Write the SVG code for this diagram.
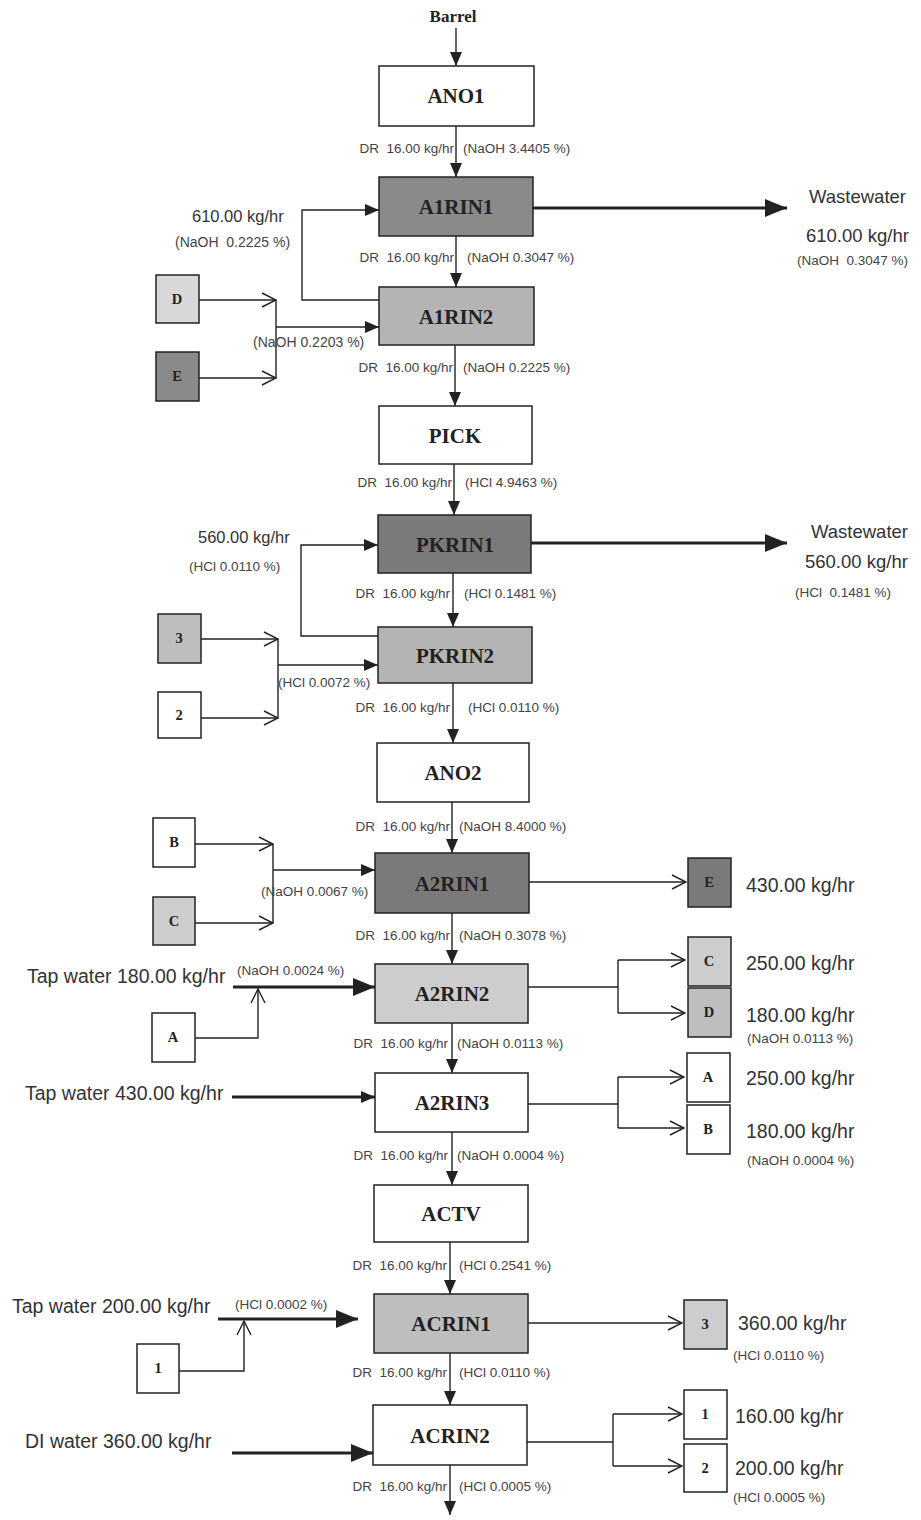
<svg xmlns="http://www.w3.org/2000/svg" width="921" height="1520" viewBox="0 0 921 1520">
<style>
.ln{stroke:#222;stroke-width:1.4;fill:none}
.thk{stroke:#222;stroke-width:3;fill:none}
.box{stroke:#222;stroke-width:1.5}
.nl{font-family:"Liberation Serif","Times New Roman",serif;font-weight:bold;font-size:21px;fill:#222;text-anchor:middle}
.sl{font-family:"Liberation Serif","Times New Roman",serif;font-weight:bold;font-size:14.5px;fill:#222;text-anchor:middle}
.dr{font-family:"Liberation Sans",Arial,sans-serif;font-size:13.5px;fill:#444;text-anchor:end;white-space:pre}
.pc{font-family:"Liberation Sans",Arial,sans-serif;font-size:13.5px;fill:#444;white-space:pre}
.md{font-family:"Liberation Sans",Arial,sans-serif;font-size:16.5px;fill:#333}
.lg{font-family:"Liberation Sans",Arial,sans-serif;font-size:18.5px;fill:#333}
.tp{font-family:"Liberation Sans",Arial,sans-serif;font-size:19.5px;fill:#333}
.w{fill:#fff}
.g1{fill:#8a8a8a}
.g2{fill:#b4b4b4}
.g3{fill:#7a7a7a}
.g4{fill:#cdcdcd}
.g5{fill:#bebebe}
.g6{fill:#d8d8d8}
</style>
<defs>
<marker id="fa" markerUnits="userSpaceOnUse" markerWidth="14" markerHeight="12" refX="14" refY="6" orient="auto"><path d="M0,0 L14,6 L0,12 z" fill="#222"/></marker>
<marker id="fb" markerUnits="userSpaceOnUse" markerWidth="22" markerHeight="18" refX="22" refY="9" orient="auto"><path d="M0,0 L22,9 L0,18 z" fill="#222"/></marker>
<marker id="oa" markerUnits="userSpaceOnUse" markerWidth="16" markerHeight="16" refX="15" refY="8" orient="auto"><path d="M1,1 L15,8 L1,15" fill="none" stroke="#222" stroke-width="1.4"/></marker>
</defs>
<rect width="921" height="1520" fill="#fff"/>

<g id="connectors">
<line class="ln" x1="456" y1="28" x2="456" y2="66" marker-end="url(#fa)"/>
<line class="ln" x1="456" y1="126" x2="456" y2="177" marker-end="url(#fa)"/>
<line class="ln" x1="456" y1="236" x2="456" y2="287" marker-end="url(#fa)"/>
<line class="ln" x1="455" y1="345" x2="455" y2="406" marker-end="url(#fa)"/>
<line class="ln" x1="454" y1="464" x2="454" y2="515" marker-end="url(#fa)"/>
<line class="ln" x1="453" y1="573" x2="453" y2="627" marker-end="url(#fa)"/>
<line class="ln" x1="453" y1="683" x2="453" y2="743" marker-end="url(#fa)"/>
<line class="ln" x1="452" y1="802" x2="452" y2="853" marker-end="url(#fa)"/>
<line class="ln" x1="452" y1="913" x2="452" y2="964" marker-end="url(#fa)"/>
<line class="ln" x1="452" y1="1023" x2="452" y2="1073" marker-end="url(#fa)"/>
<line class="ln" x1="452" y1="1132" x2="452" y2="1185" marker-end="url(#fa)"/>
<line class="ln" x1="450" y1="1242" x2="450" y2="1294" marker-end="url(#fa)"/>
<line class="ln" x1="450" y1="1353" x2="450" y2="1405" marker-end="url(#fa)"/>
<line class="ln" x1="450" y1="1465" x2="450" y2="1515" marker-end="url(#fa)"/>

<polyline class="ln" points="379,300 302,300 302,210 379,210" marker-end="url(#fa)"/>
<line class="ln" x1="199" y1="300" x2="276" y2="300" marker-end="url(#oa)"/>
<line class="ln" x1="199" y1="378" x2="276" y2="378" marker-end="url(#oa)"/>
<line class="ln" x1="276" y1="300" x2="276" y2="378"/>
<line class="ln" x1="276" y1="327" x2="379" y2="327" marker-end="url(#fa)"/>
<line class="thk" x1="533" y1="208" x2="787" y2="208" marker-end="url(#fb)"/>

<polyline class="ln" points="378,636 301,636 301,545 378,545" marker-end="url(#fa)"/>
<line class="ln" x1="201" y1="639" x2="278" y2="639" marker-end="url(#oa)"/>
<line class="ln" x1="201" y1="718" x2="278" y2="718" marker-end="url(#oa)"/>
<line class="ln" x1="278" y1="639" x2="278" y2="718"/>
<line class="ln" x1="278" y1="665" x2="378" y2="665" marker-end="url(#fa)"/>
<line class="thk" x1="531" y1="543" x2="787" y2="543" marker-end="url(#fb)"/>

<line class="ln" x1="195" y1="844" x2="273" y2="844" marker-end="url(#oa)"/>
<line class="ln" x1="195" y1="923" x2="273" y2="923" marker-end="url(#oa)"/>
<line class="ln" x1="273" y1="844" x2="273" y2="923"/>
<line class="ln" x1="273" y1="870" x2="375" y2="870" marker-end="url(#fa)"/>
<line class="ln" x1="529" y1="882" x2="686" y2="882" marker-end="url(#oa)"/>

<line class="thk" x1="233" y1="987" x2="375" y2="987" marker-end="url(#fb)"/>
<polyline class="ln" points="195,1038 258,1038 258,989" marker-end="url(#oa)"/>
<line class="ln" x1="528" y1="987" x2="618" y2="987"/>
<line class="ln" x1="618" y1="960" x2="618" y2="1013"/>
<line class="ln" x1="618" y1="960" x2="685" y2="960" marker-end="url(#oa)"/>
<line class="ln" x1="618" y1="1013" x2="685" y2="1013" marker-end="url(#oa)"/>

<line class="thk" x1="232" y1="1097" x2="375" y2="1097" marker-end="url(#fa)"/>
<line class="ln" x1="528" y1="1104" x2="618" y2="1104"/>
<line class="ln" x1="618" y1="1077" x2="618" y2="1128"/>
<line class="ln" x1="618" y1="1077" x2="684" y2="1077" marker-end="url(#oa)"/>
<line class="ln" x1="618" y1="1128" x2="684" y2="1128" marker-end="url(#oa)"/>

<line class="thk" x1="218" y1="1319" x2="358" y2="1319" marker-end="url(#fb)"/>
<polyline class="ln" points="179,1371 244,1371 244,1321" marker-end="url(#oa)"/>
<line class="ln" x1="528" y1="1323" x2="682" y2="1323" marker-end="url(#oa)"/>

<line class="thk" x1="232" y1="1453" x2="373" y2="1453" marker-end="url(#fb)"/>
<line class="ln" x1="527" y1="1442" x2="613" y2="1442"/>
<line class="ln" x1="613" y1="1414" x2="613" y2="1466"/>
<line class="ln" x1="613" y1="1414" x2="682" y2="1414" marker-end="url(#oa)"/>
<line class="ln" x1="613" y1="1466" x2="682" y2="1466" marker-end="url(#oa)"/>
</g>

<g id="flow-labels">
<text class="sl" x="453" y="22" style="font-size:17px">Barrel</text>
<text class="dr" x="454" y="153">DR  16.00 kg/hr</text><text class="pc" x="463" y="153">(NaOH 3.4405 %)</text>
<text class="dr" x="454" y="262">DR  16.00 kg/hr</text><text class="pc" x="467" y="262">(NaOH 0.3047 %)</text>
<text class="dr" x="453" y="372">DR  16.00 kg/hr</text><text class="pc" x="463" y="372">(NaOH 0.2225 %)</text>
<text class="dr" x="452" y="487">DR  16.00 kg/hr</text><text class="pc" x="465" y="487">(HCl 4.9463 %)</text>
<text class="dr" x="450" y="598">DR  16.00 kg/hr</text><text class="pc" x="464" y="598">(HCl 0.1481 %)</text>
<text class="dr" x="450" y="712">DR  16.00 kg/hr</text><text class="pc" x="468" y="712">(HCl 0.0110 %)</text>
<text class="dr" x="450" y="831">DR  16.00 kg/hr</text><text class="pc" x="459" y="831">(NaOH 8.4000 %)</text>
<text class="dr" x="450" y="940">DR  16.00 kg/hr</text><text class="pc" x="459" y="940">(NaOH 0.3078 %)</text>
<text class="dr" x="448" y="1048">DR  16.00 kg/hr</text><text class="pc" x="457" y="1048">(NaOH 0.0113 %)</text>
<text class="dr" x="448" y="1160">DR  16.00 kg/hr</text><text class="pc" x="457" y="1160">(NaOH 0.0004 %)</text>
<text class="dr" x="447" y="1270">DR  16.00 kg/hr</text><text class="pc" x="459" y="1270">(HCl 0.2541 %)</text>
<text class="dr" x="447" y="1377">DR  16.00 kg/hr</text><text class="pc" x="459" y="1377">(HCl 0.0110 %)</text>
<text class="dr" x="447" y="1491">DR  16.00 kg/hr</text><text class="pc" x="459" y="1491">(HCl 0.0005 %)</text>

<text class="md" x="192" y="222">610.00 kg/hr</text>
<text class="pc" x="175" y="247" style="font-size:14px">(NaOH  0.2225 %)</text>
<text class="pc" x="253" y="347" style="font-size:14px">(NaOH 0.2203 %)</text>
<text class="lg" x="809" y="203">Wastewater</text>
<text class="lg" x="806" y="242">610.00 kg/hr</text>
<text class="pc" x="797" y="265">(NaOH  0.3047 %)</text>

<text class="md" x="198" y="543">560.00 kg/hr</text>
<text class="pc" x="189" y="571">(HCl 0.0110 %)</text>
<text class="pc" x="278" y="687">(HCl 0.0072 %)</text>
<text class="lg" x="811" y="538">Wastewater</text>
<text class="lg" x="805" y="568">560.00 kg/hr</text>
<text class="pc" x="795" y="597">(HCl  0.1481 %)</text>

<text class="pc" x="261" y="896">(NaOH 0.0067 %)</text>
<text class="tp" x="746" y="892">430.00 kg/hr</text>

<text class="tp" x="27" y="983">Tap water 180.00 kg/hr</text>
<text class="pc" x="237" y="975">(NaOH 0.0024 %)</text>
<text class="tp" x="746" y="970">250.00 kg/hr</text>
<text class="tp" x="746" y="1022">180.00 kg/hr</text>
<text class="pc" x="747" y="1043">(NaOH 0.0113 %)</text>

<text class="tp" x="25" y="1100">Tap water 430.00 kg/hr</text>
<text class="tp" x="746" y="1085">250.00 kg/hr</text>
<text class="tp" x="746" y="1138">180.00 kg/hr</text>
<text class="pc" x="747" y="1165">(NaOH 0.0004 %)</text>

<text class="tp" x="12" y="1313">Tap water 200.00 kg/hr</text>
<text class="pc" x="235" y="1309">(HCl 0.0002 %)</text>
<text class="tp" x="738" y="1330">360.00 kg/hr</text>
<text class="pc" x="733" y="1360">(HCl 0.0110 %)</text>

<text class="tp" x="25" y="1448">DI water 360.00 kg/hr</text>
<text class="tp" x="735" y="1423">160.00 kg/hr</text>
<text class="tp" x="735" y="1475">200.00 kg/hr</text>
<text class="pc" x="733" y="1502">(HCl 0.0005 %)</text>
</g>

<g id="ANO1"><rect class="box w" x="379" y="66" width="155" height="60"/><text class="nl" x="456" y="103">ANO1</text></g>
<g id="A1RIN1"><rect class="box g1" x="379" y="177" width="154" height="59"/><text class="nl" x="456" y="214">A1RIN1</text></g>
<g id="A1RIN2"><rect class="box g2" x="379" y="287" width="155" height="58"/><text class="nl" x="456" y="324">A1RIN2</text></g>
<g id="PICK"><rect class="box w" x="379" y="406" width="153" height="58"/><text class="nl" x="455" y="443">PICK</text></g>
<g id="PKRIN1"><rect class="box g3" x="378" y="515" width="153" height="58"/><text class="nl" x="455" y="552">PKRIN1</text></g>
<g id="PKRIN2"><rect class="box g2" x="378" y="627" width="154" height="56"/><text class="nl" x="455" y="663">PKRIN2</text></g>
<g id="ANO2"><rect class="box w" x="377" y="743" width="152" height="59"/><text class="nl" x="453" y="780">ANO2</text></g>
<g id="A2RIN1"><rect class="box g3" x="375" y="853" width="154" height="60"/><text class="nl" x="452" y="891">A2RIN1</text></g>
<g id="A2RIN2"><rect class="box g4" x="375" y="964" width="153" height="59"/><text class="nl" x="452" y="1001">A2RIN2</text></g>
<g id="A2RIN3"><rect class="box w" x="375" y="1073" width="153" height="59"/><text class="nl" x="452" y="1110">A2RIN3</text></g>
<g id="ACTV"><rect class="box w" x="374" y="1185" width="154" height="57"/><text class="nl" x="451" y="1221">ACTV</text></g>
<g id="ACRIN1"><rect class="box g5" x="374" y="1294" width="154" height="59"/><text class="nl" x="451" y="1331">ACRIN1</text></g>
<g id="ACRIN2"><rect class="box w" x="373" y="1405" width="154" height="60"/><text class="nl" x="450" y="1443">ACRIN2</text></g>

<g id="in-D"><rect class="box g6" x="156" y="275" width="43" height="48"/><text class="sl" x="177" y="304">D</text></g>
<g id="in-E"><rect class="box g1" x="156" y="352" width="43" height="49"/><text class="sl" x="177" y="381">E</text></g>
<g id="in-3"><rect class="box g5" x="158" y="614" width="43" height="49"/><text class="sl" x="179" y="643">3</text></g>
<g id="in-2"><rect class="box w" x="158" y="692" width="43" height="46"/><text class="sl" x="179" y="720">2</text></g>
<g id="in-B"><rect class="box w" x="153" y="818" width="42" height="49"/><text class="sl" x="174" y="847">B</text></g>
<g id="in-C"><rect class="box g4" x="153" y="897" width="42" height="48"/><text class="sl" x="174" y="926">C</text></g>
<g id="in-A"><rect class="box w" x="152" y="1013" width="43" height="49"/><text class="sl" x="173" y="1042">A</text></g>
<g id="in-1"><rect class="box w" x="137" y="1344" width="42" height="49"/><text class="sl" x="158" y="1373">1</text></g>

<g id="out-E"><rect class="box g3" x="688" y="858" width="43" height="49"/><text class="sl" x="709" y="887">E</text></g>
<g id="out-C"><rect class="box g4" x="688" y="937" width="43" height="49"/><text class="sl" x="709" y="966">C</text></g>
<g id="out-D"><rect class="box g5" x="688" y="988" width="43" height="49"/><text class="sl" x="709" y="1017">D</text></g>
<g id="out-A"><rect class="box w" x="687" y="1053" width="43" height="49"/><text class="sl" x="708" y="1082">A</text></g>
<g id="out-B"><rect class="box w" x="687" y="1105" width="43" height="49"/><text class="sl" x="708" y="1134">B</text></g>
<g id="out-3"><rect class="box g4" x="684" y="1300" width="43" height="49"/><text class="sl" x="705" y="1329">3</text></g>
<g id="out-1"><rect class="box w" x="684" y="1390" width="43" height="49"/><text class="sl" x="705" y="1419">1</text></g>
<g id="out-2"><rect class="box w" x="684" y="1444" width="43" height="48"/><text class="sl" x="705" y="1473">2</text></g>
</svg>
